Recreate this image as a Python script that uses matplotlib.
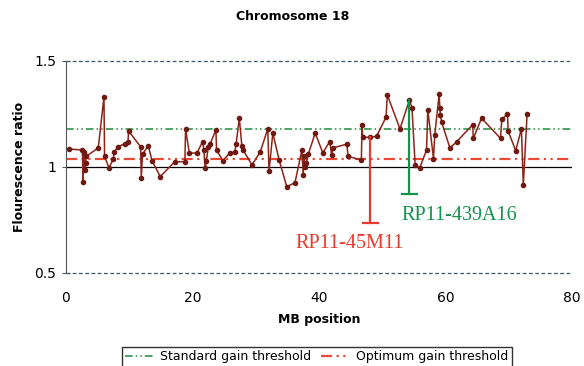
import numpy as np
import matplotlib
matplotlib.use('Agg')
import matplotlib.pyplot as plt

# MB position and fluorescence ratio
mb_pos = [0.5, 2.6, 2.7, 2.8, 3.0, 3.1, 3.2, 5.1, 6.0, 6.1, 6.8, 7.5, 7.6, 8.2,
          9.3, 9.8, 9.9, 11.8, 11.9, 12.1, 13.0, 13.6, 14.9, 17.2, 18.8, 18.9,
          19.5, 20.7, 21.6, 21.8, 22.0, 22.2, 22.5, 22.8, 23.7, 23.8, 24.8, 25.9,
          26.7, 26.9, 27.4, 27.8, 28.0, 29.4, 30.7, 31.9, 32.1, 32.7, 33.7, 34.9,
          36.2, 37.3, 37.5, 37.6, 37.8, 38.0, 38.3, 39.4, 40.6, 41.7, 42.0, 42.2,
          44.4, 44.6, 46.7, 46.8, 46.9, 48.1, 49.1, 50.6, 50.8, 52.8, 54.3, 54.7,
          55.2, 55.9, 57.0, 57.2, 58.1, 58.3, 59.0, 59.1, 59.2, 59.4, 60.7, 61.8,
          64.3, 64.4, 65.7, 68.7, 68.9, 69.8, 69.9, 71.1, 72.0, 72.3, 72.9]
ratio = [1.085, 1.08, 0.93, 1.07, 0.985, 1.02, 1.05, 1.09, 1.33, 1.05, 0.995,
         1.04, 1.07, 1.095, 1.11, 1.12, 1.17, 1.095, 0.95, 1.06, 1.10, 1.03,
         0.955, 1.025, 1.025, 1.18, 1.066, 1.066, 1.12, 1.08, 0.995, 1.03, 1.095,
         1.11, 1.175, 1.08, 1.03, 1.067, 1.07, 1.11, 1.23, 1.10, 1.08, 1.01, 1.07,
         1.18, 0.98, 1.16, 1.033, 0.907, 0.926, 1.08, 0.96, 1.05, 1.0, 1.02, 1.06,
         1.16, 1.067, 1.12, 1.057, 1.09, 1.108, 1.05, 1.033, 1.20, 1.14, 1.14,
         1.145, 1.235, 1.34, 1.18, 1.316, 1.28, 1.01, 0.994, 1.08, 1.27, 1.04,
         1.15, 1.345, 1.28, 1.245, 1.21, 1.09, 1.12, 1.20, 1.135, 1.23, 1.135,
         1.225, 1.25, 1.17, 1.077, 1.18, 0.915, 1.25]

standard_gain = 1.18
optimum_gain = 1.04

# clone markers: (label, position, top, bottom, colour, label x, label y)
clones = [('RP11-45M11', 48.1, 1.14, 0.735, '#e8392c', 44.8, 0.638),
          ('RP11-439A16', 54.3, 1.316, 0.873, '#12924a', 62.2, 0.77)]

fig = plt.figure(figsize=(5.84, 3.66), dpi=100)
ax = fig.add_axes([66/584, 1-273/366, (572-66)/584, (273-61)/366])

ax.axhline(1.5, color='#3d5566', lw=0.9, ls=(0, (3, 2)), clip_on=False)
ax.axhline(0.5, color='#3d5566', lw=0.9, ls=(0, (3, 2)), clip_on=False)
ax.axhline(1.0, color='black', lw=0.9)
ax.axhline(standard_gain, color='#1e8a3c', lw=1.1, ls=(0, (5, 2, 1, 2, 1, 2)),
           label='Standard gain threshold')
ax.axhline(optimum_gain, color='#e84a36', lw=1.6, ls=(0, (5, 2, 1, 2, 1, 2)),
           label='Optimum gain threshold')

ax.plot(mb_pos, ratio, color='#8e2418', lw=1.1, marker='o', ms=3,
        mfc='#6e1a12', mec='#6e1a12')

for name, xpos, top, bot, col, tx, ty in clones:
    ax.plot([xpos, xpos], [top, bot], color=col, lw=1.6)
    ax.plot([xpos - 1.2, xpos + 1.2], [bot, bot], color=col, lw=1.6)
    ax.text(tx, ty, name, color=col, fontsize=14.5,
            family='Liberation Serif', ha='center', va='center')

ax.set_xlim(0, 80)
ax.set_ylim(0.5, 1.5)
ax.set_xticks([0, 20, 40, 60, 80])
ax.set_yticks([0.5, 1, 1.5])
ax.set_yticklabels(['0.5', '1', '1.5'])
for s in ['top', 'right', 'bottom']:
    ax.spines[s].set_visible(False)
ax.spines['left'].set_color('#555555')
ax.tick_params(axis='x', length=0, pad=13, labelsize=10)
ax.tick_params(axis='y', direction='inout', length=6, color='#555555',
               pad=4, labelsize=10)

fig.text(293/584, 1-17/366, 'Chromosome 18', ha='center', va='center',
         fontsize=9, fontweight='bold')
ax.set_xlabel('MB position', fontsize=9, fontweight='bold', labelpad=6)
ax.set_ylabel('Flourescence ratio', fontsize=9, fontweight='bold', labelpad=6)

h, l = ax.get_legend_handles_labels()
leg = fig.legend(h, l, loc='upper center', bbox_to_anchor=(317/584, 1-341/366),
                 ncol=2, frameon=True, fancybox=False, fontsize=9,
                 handlelength=2.2, handletextpad=0.6, columnspacing=0.8,
                 borderpad=0.25, edgecolor='black')
leg.get_frame().set_linewidth(1.0)

fig.savefig('out.png', dpi=100)
